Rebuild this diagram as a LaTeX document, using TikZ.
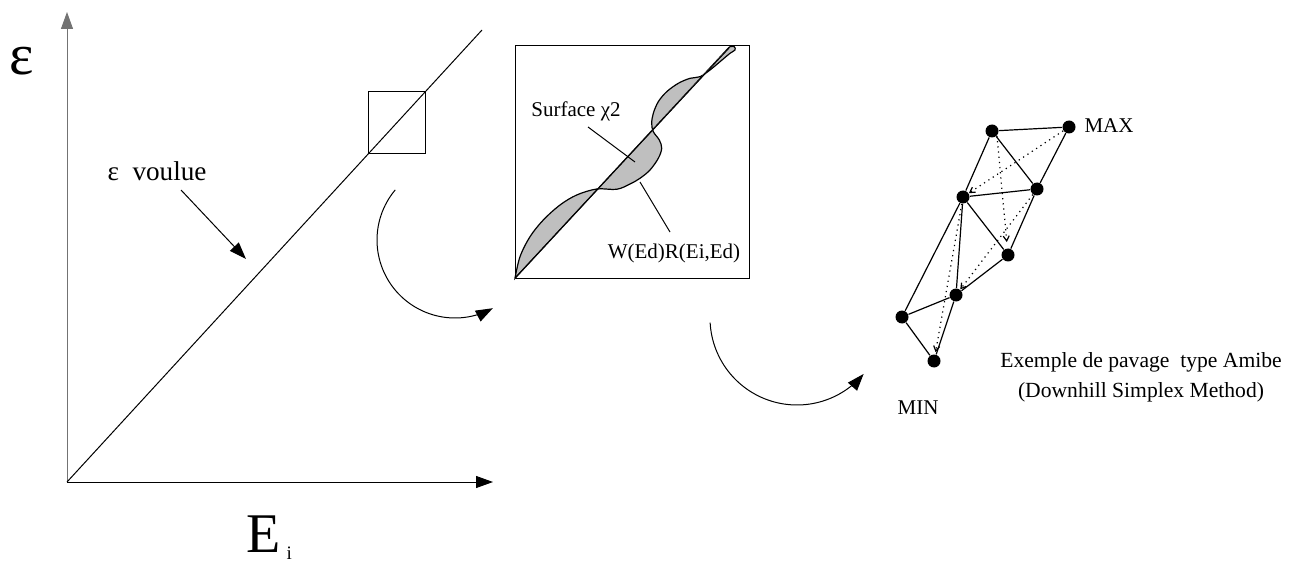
\documentclass[tikz,border=0pt]{standalone}
\usepackage{fontspec}
\setmainfont{Liberation Serif}
\usetikzlibrary{arrows.meta}
\begin{document}
\begin{tikzpicture}[x=0.5pt,y=-0.5pt,
  line width=0.5pt,
  tip/.style={-{Triangle[length=8.5pt,width=6pt]}},
  dot/.style={circle,fill=black,inner sep=0pt,minimum size=6.5pt},
  lbl/.style={inner sep=0pt,font=\fontsize{10.5}{12}\selectfont},
  simp/.style={line width=0.6pt},
  dotarrow/.style={dotted,line width=0.6pt,-{Straight Barb[length=2.5pt,width=3pt]}},
  blob/.style={fill=black!25,draw=black,line width=0.6pt}
]
\useasboundingbox (0,0) rectangle (1295,561);

% ---------- left plot ----------
\coordinate (O) at (67,482);
\coordinate (Ytop) at (67,12);
\coordinate (Xend) at (493,482);
\coordinate (Dend) at (482,30);
\draw[tip,black!55] (O) -- (Ytop);
\draw[tip] (O) -- (Xend);
\draw (O) -- (Dend);
\node[draw,inner sep=0pt,minimum width=28.5pt,minimum height=31pt,anchor=north west] (sq) at (368,91) {};

\node[inner sep=0pt,anchor=base west,font=\fontsize{29}{32}\selectfont] (eps) at (9,75) {ε};
\node[inner sep=0pt,text depth=0pt,anchor=base west,font=\fontsize{28}{32}\selectfont] (E) at (246,552) {E};
\node[inner sep=0pt,text depth=0pt,anchor=base west,font=\fontsize{9.5}{11}\selectfont] (i) at (286,559) {i};

\node[inner sep=0pt,anchor=base west,font=\fontsize{13.6}{16}\selectfont] (voulue) at (107,181) {ε\hspace{0.5em}voulue};
\coordinate (va) at (181,190);
\coordinate (vb) at (246,259);
\draw[tip] (va) -- (vb);

% curved arrow 1
\draw[tip] plot[domain=140:299,samples=60] ({455+78*cos(\x)},{240-78*sin(\x)});

% ---------- zoom box ----------
\node[draw,inner sep=0pt,minimum width=117pt,minimum height=116.5pt,anchor=north west] (zb) at (515,45) {};
\path[blob] plot[smooth,tension=0.55] coordinates {
 (515,278.3) (520,256.7) (530,236.7) (543.3,220) (560,205) (576.7,195)
 (596.7,189) (616.7,189.3) (630,184) (640,178.3) (650,170) (658.3,158.3)
 (661.7,148.3) (659.3,140) (653.3,131.7) (651.7,123.3) (653.3,113.3) (658.3,101.7)
 (666.7,91.7) (678.3,83.3) (690,78.3) (700,76.7) (710,70) (720,61.7)
 (730,53.3) (735,50) (734.3,46.7) (730,46.7) (727,49.5)} -- cycle;
\path[fill=black!25] (515,278.3) -- (727,49.5) -- (729,48) -- cycle;
\coordinate (z1) at (515,278);
\coordinate (z2) at (729,48);
\draw (z1) -- (z2);

\node[lbl,anchor=base] (surf) at (576,117) {Surface χ2};
\coordinate (s1) at (588,127);
\coordinate (s2) at (635,162);
\draw (s1) -- (s2);
\node[lbl,anchor=base] (wr) at (674,258) {W(Ed)R(Ei,Ed)};
\coordinate (w1) at (640,182);
\coordinate (w2) at (670,232);
\draw (w1) -- (w2);

% curved arrow 2
\draw[tip] plot[domain=183:320,samples=60] ({797+87*cos(\x)},{318-87*sin(\x)});

% ---------- simplex ----------
\node[dot] (A) at (992,131) {};
\node[dot] (B) at (1069,127) {};
\node[dot] (C) at (1037,189) {};
\node[dot] (D) at (963,197) {};
\node[dot] (Ee) at (1008,255) {};
\node[dot] (F) at (956,295) {};
\node[dot] (G) at (902,317) {};
\node[dot] (H) at (934,361) {};

\draw[simp] (A) -- (B);
\draw[simp] (A) -- (D);
\draw[simp] (A) -- (C);
\draw[simp] (B) -- (C);
\draw[simp] (D) -- (C);
\draw[simp] (D) -- (Ee);
\draw[simp] (C) -- (Ee);
\draw[simp] (D) -- (F);
\draw[simp] (Ee) -- (F);
\draw[simp] (D) -- (G);
\draw[simp] (G) -- (F);
\draw[simp] (G) -- (H);
\draw[simp] (F) -- (H);

\draw[dotarrow] (B) -- (D);
\draw[dotarrow,shorten >=3pt] (A.south east) -- (Ee);
\draw[dotarrow] (C) -- (F);
\draw[dotarrow,shorten >=1pt] (D) -- (H);

\node[lbl,anchor=base] (max) at (1109,133) {MAX};
\node[lbl,anchor=base] (min) at (918,414) {MIN};
\node[inner sep=0pt,anchor=base,font=\fontsize{10.8}{13}\selectfont] (ex1) at (1141,367) {Exemple de pavage\ \ type Amibe};
\node[inner sep=0pt,anchor=base,font=\fontsize{10.8}{13}\selectfont] (ex2) at (1141,397) {(Downhill Simplex Method)};
\end{tikzpicture}
\end{document}
